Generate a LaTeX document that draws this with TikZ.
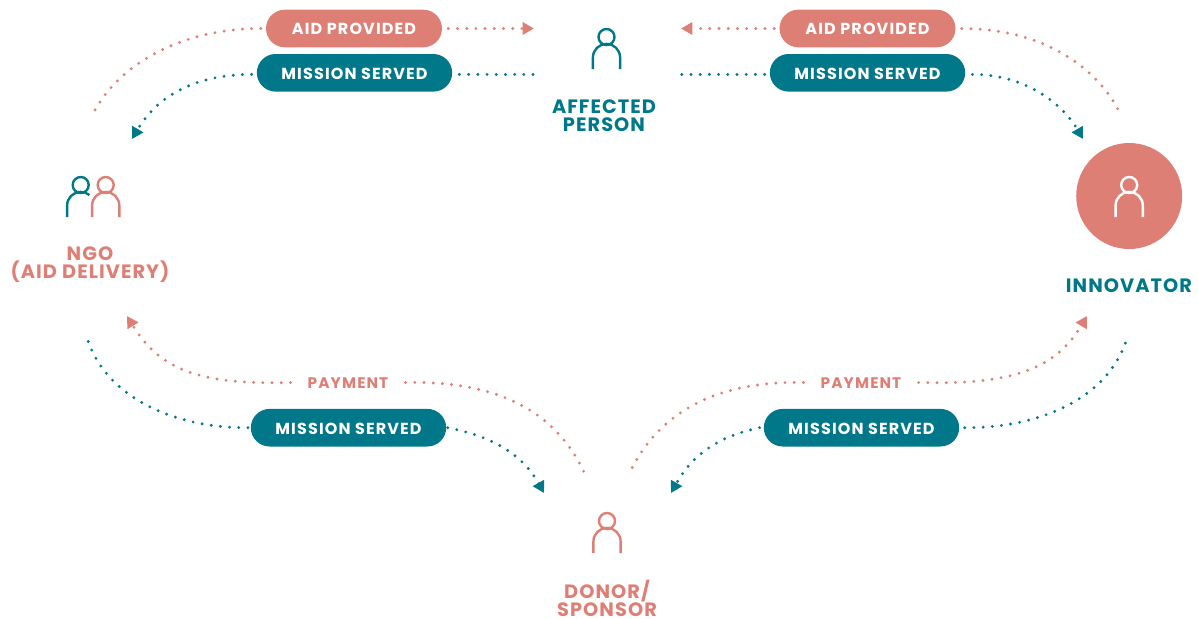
\documentclass[tikz,border=0pt]{standalone}
\usepackage{fontspec}
\setmainfont{Poppins}
\newfontfamily\pilltext[LetterSpace=7]{Poppins}
\newfontfamily\actortext[LetterSpace=5.5]{Poppins}
\usetikzlibrary{arrows.meta,shapes.misc}
\definecolor{pinkc}{HTML}{DE7F76}
\definecolor{tealc}{HTML}{00788A}
\tikzset{
  pill/.style={rounded rectangle,draw=none,text=white,font=\pilltext\fontsize{12pt}{12pt}\bfseries,inner sep=0pt,minimum height=28.2pt,text height=9.6pt,text depth=0pt},
  aidpill/.style={pill,fill=pinkc,minimum width=132pt},
  mispill/.style={pill,fill=tealc,minimum width=146.5pt},
  paylabel/.style={font=\pilltext\fontsize{11.5pt}{12pt}\bfseries,text=pinkc,inner sep=0pt,minimum width=66pt,minimum height=10pt,text height=9.2pt,text depth=0pt},
  actor/.style={align=center,font=\actortext\fontsize{14.5pt}{13.7pt}\bfseries,inner sep=0pt},
  dots/.style={line width=2.4pt,line cap=round,dash pattern=on 0pt off 6.9pt},
  pinkdots/.style={dots,draw=pinkc},
  tealdots/.style={dots,draw=tealc},
  tip/.style={-{Triangle[length=8.6pt,width=9.2pt]}},
  personicon/.pic={
    \draw[line width=1.8pt] (0,0) circle[radius=8];
    \draw[line width=1.8pt] (-13.6,32) -- (-13.6,20.5) arc[start angle=180,end angle=360,radius=13.6] -- (13.6,32);
  }
}
\begin{document}
\begin{tikzpicture}[x=0.75pt,y=-0.75pt]
\useasboundingbox (0,0) rectangle (1198,618);

% pills
\node[aidpill] (aidL) at (354,28.5) {AID PROVIDED};
\node[mispill] (misL) at (354.5,72.8) {MISSION SERVED};
\node[aidpill] (aidR) at (867.5,28.5) {AID PROVIDED};
\node[mispill] (misR) at (867.5,72.8) {MISSION SERVED};
\node[mispill] (misBL) at (348.5,427.7) {MISSION SERVED};
\node[mispill] (misBR) at (861.5,427.7) {MISSION SERVED};
\node[paylabel] (payL) at (348,382.5) {PAYMENT};
\node[paylabel] (payR) at (861,382.5) {PAYMENT};

% actors
\node[actor,text=tealc] (affected) at (604,115.5) {AFFECTED\\PERSON};
\node[actor,text=pinkc] (ngo) at (90,264.5) {NGO\\(AID DELIVERY)};
\node[actor,text=tealc] (innov) at (1129,286) {INNOVATOR};
\node[actor,text=pinkc] (donor) at (607,598.5) {DONOR/\\SPONSOR};
\node[circle,fill=pinkc,minimum size=79.5pt,inner sep=0pt] (innovcircle) at (1129.2,196) {};

% icons
\pic[tealc] at (606.5,37) {personicon};
\pic[pinkc] at (607,521) {personicon};
\pic[white] at (1129.2,185) {personicon};
\begin{scope}[tealc,line width=1.8pt]
\draw (80.7,185) circle[radius=8];
\draw (67.1,217) -- (67.1,205.5) arc[start angle=180,end angle=310,radius=13.6];
\end{scope}
\pic[pinkc] at (105.7,185) {personicon};

% free ends
\coordinate (aTL) at (95,110);
\coordinate (bTL) at (132,139);
\coordinate (cT) at (534,28.5);
\coordinate (dT) at (536,74.5);
\coordinate (cTR) at (681,28.5);
\coordinate (dTR) at (679,74.5);
\coordinate (aTR) at (1119,111);
\coordinate (bTR) at (1083,139);
\coordinate (eBL) at (127,316);
\coordinate (fBL) at (87,338);
\coordinate (gBL) at (584,472);
\coordinate (hBL) at (544,493);
\coordinate (eBR) at (1087,316);
\coordinate (fBR) at (1127,338);
\coordinate (gBR) at (630,472);
\coordinate (hBR) at (671,493);

% top left
\draw[pinkdots] ([xshift=-3.75pt]aidL.west) .. controls (180,28.5) and (120,65) .. (aTL);
\draw[tealdots,tip] ([xshift=-3.75pt,yshift=-1.2pt]misL.west) .. controls (190,74.5) and (155,100) .. (bTL);
\draw[pinkdots,tip] ([xshift=4.5pt]aidL.east) -- (cT);
\draw[tealdots] ([xshift=5.25pt,yshift=-1.2pt]misL.east) -- (dT);
% top right
\draw[pinkdots,tip] ([xshift=-3.75pt]aidR.west) -- (cTR);
\draw[tealdots] ([xshift=-3.75pt,yshift=-1.2pt]misR.west) -- (dTR);
\draw[pinkdots] ([xshift=4.5pt]aidR.east) .. controls (1040,28.5) and (1095,65) .. (aTR);
\draw[tealdots,tip] ([xshift=5.25pt,yshift=-1.2pt]misR.east) .. controls (1030,74.5) and (1065,108) .. (bTR);
% bottom left
\draw[pinkdots,tip] ([xshift=-10pt]payL.west) .. controls (200,385) and (160,370) .. (eBL);
\draw[pinkdots] ([xshift=10pt]payL.east) .. controls (480,381) and (550,400) .. (gBL);
\draw[tealdots] ([xshift=-2pt]misBL.west) .. controls (170,428) and (105,395) .. (fBL);
\draw[tealdots,tip] ([xshift=1pt]misBL.east) .. controls (485,435) and (520,450) .. (hBL);
% bottom right
\draw[pinkdots,tip] ([xshift=10pt]payR.east) .. controls (1010,385) and (1055,370) .. (eBR);
\draw[pinkdots] ([xshift=-10pt]payR.west) .. controls (735,381) and (665,400) .. (gBR);
\draw[tealdots] ([xshift=4pt]misBR.east) .. controls (1045,428) and (1110,395) .. (fBR);
\draw[tealdots,tip] ([xshift=-3pt]misBR.west) .. controls (725,435) and (695,450) .. (hBR);
\end{tikzpicture}
\end{document}
